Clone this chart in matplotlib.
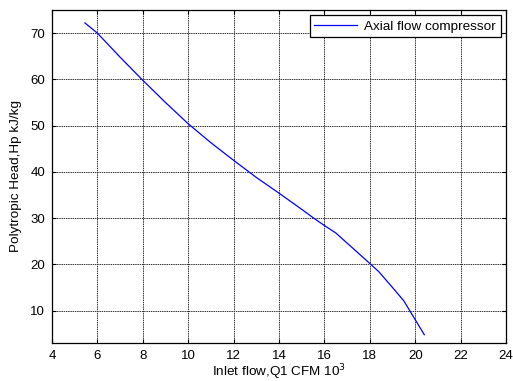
import matplotlib
matplotlib.use("Agg")
import matplotlib.pyplot as plt

plt.rcParams["font.family"] = ["Liberation Sans", "DejaVu Sans"]

# inlet flow (x 10^3 CFM) vs polytropic head (kJ/kg)
flow = [5.45, 6.0, 7.0, 8.0, 9.0, 10.0, 11.0, 12.0, 13.0, 14.0, 15.0, 15.5, 16.0, 16.5, 17.0, 17.5, 18.0, 18.4, 19.0, 19.5, 20.4]
head = [72.2, 70.0, 64.8, 59.8, 55.0, 50.4, 46.3, 42.5, 38.8, 35.4, 31.9, 30.1, 28.4, 26.8, 24.6, 22.4, 20.2, 18.4, 15.0, 12.1, 4.8]

xticks = [4, 6, 8, 10, 12, 14, 16, 18, 20, 22, 24]
yticks = [10, 20, 30, 40, 50, 60, 70]

fig = plt.figure(figsize=(5.13, 3.81), dpi=100)
ax = fig.add_axes([52 / 513, 1 - 343 / 381, (506 - 52) / 513, (343 - 10) / 381])

ax.plot(flow, head, color="#0000ff", lw=0.9, label="Axial flow compressor")
ax.set_xlim(4, 24)
ax.set_ylim(3, 75)
ax.set_xticks(xticks)
ax.set_yticks(yticks)
ax.tick_params(direction="in", top=True, right=True, labelsize=9.5, length=3, pad=5)
ax.grid(True, color="0.2", lw=0.7, ls=(0, (1.5, 0.8)))
for s in ax.spines.values():
    s.set_linewidth(0.9)

ax.set_xlabel("Inlet flow,Q1 CFM 10$^3$", fontsize=9.7, labelpad=0)
ax.set_ylabel("Polytropic Head,Hp kJ/kg", fontsize=9.7, labelpad=6)

leg = ax.legend(loc="upper right", fontsize=9.7, fancybox=False, framealpha=1,
                edgecolor="black", borderaxespad=0.4, handlelength=3.2,
                handletextpad=0.5, borderpad=0.35)
leg.get_frame().set_linewidth(0.9)

fig.savefig("out.png", dpi=100)
